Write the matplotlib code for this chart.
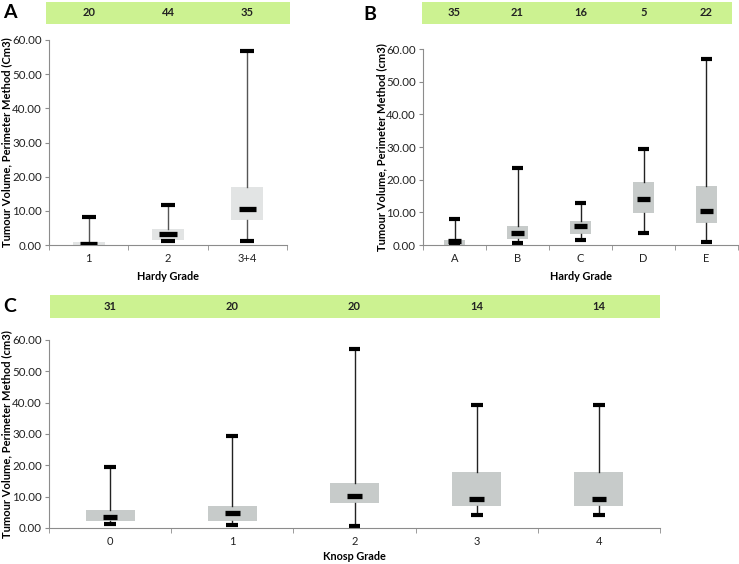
import numpy as np
import matplotlib
matplotlib.use("Agg")
import matplotlib.pyplot as plt

plt.rcParams['font.family'] = ['Lato', 'DejaVu Sans']

# panel A: Hardy grade (3 groups)
A_cats = ["1", "2", "3+4"]
A_n = [20, 44, 35]
A_min = [0.0, 1.1, 1.2]
A_q1 = [0.0, 1.5, 7.3]
A_med = [0.3, 3.1, 10.5]
A_q3 = [0.8, 4.8, 16.9]
A_max = [8.3, 11.6, 56.9]

# panel B: Hardy grade (A-E)
B_cats = ["A", "B", "C", "D", "E"]
B_n = [35, 21, 16, 5, 22]
B_min = [0.2, 0.5, 1.5, 3.6, 0.8]
B_q1 = [0.0, 1.7, 3.3, 9.9, 6.6]
B_med = [1.1, 3.6, 5.9, 14.2, 10.3]
B_q3 = [1.5, 5.9, 7.3, 19.4, 18.1]
B_max = [8.0, 23.7, 13.0, 29.3, 56.8]

# panel C: Knosp grade
C_cats = ["0", "1", "2", "3", "4"]
C_n = [31, 20, 20, 14, 14]
C_min = [1.2, 0.85, 0.75, 4.05, 4.05]
C_q1 = [2.1, 2.3, 8.0, 7.1, 7.1]
C_med = [3.5, 4.7, 10.2, 9.4, 9.4]
C_q3 = [5.9, 7.0, 14.5, 17.8, 17.8]
C_max = [19.5, 29.4, 57.1, 39.4, 39.4]

W, H = 739, 564
GREEN = '#ccf291'
SPINE = '#8c8c8c'


def fx(px):
    return px / W


def fy(py):
    return 1 - py / H


def panel(fig, rect, bar_rect, letter, letter_xy, cats, n, lo, q1, med, q3, hi,
          ylabel, xlabel, ylab_x, xlab_y, box_color, whisk_color, box_w, med_w):
    l, t, r, b = rect
    ax = fig.add_axes([fx(l), fy(b), fx(r - l), fy(t) - fy(b)])
    pos = np.arange(len(cats))
    stats = []
    for i in range(len(cats)):
        stats.append(dict(whislo=lo[i], q1=q1[i], med=med[i], q3=q3[i],
                          whishi=hi[i], fliers=[]))
    ax.bxp(stats, positions=pos, widths=box_w, patch_artist=True,
           showfliers=False,
           boxprops=dict(facecolor=box_color, edgecolor='none'),
           whiskerprops=dict(color=whisk_color, lw=1.0),
           capprops=dict(color='black', lw=3.0, solid_capstyle='butt'),
           capwidths=med_w * 0.8,
           medianprops=dict(visible=False), zorder=2)
    ax.hlines(med, pos - med_w / 2, pos + med_w / 2, colors='black', lw=3.8,
              zorder=4)
    ax.set_xlim(-0.5, len(cats) - 0.5)
    ax.set_ylim(0, 60)
    ax.set_yticks(np.arange(0, 61, 10))
    ax.set_yticklabels(["%.2f" % v for v in np.arange(0, 61, 10)])
    ax.set_xticks(pos)
    ax.set_xticklabels(cats)
    ax.set_xticks(np.arange(-0.5, len(cats), 1.0), minor=True)
    ax.tick_params(axis='x', which='major', length=0, pad=6, labelsize=8,
                   colors='#222222')
    ax.tick_params(axis='x', which='minor', length=3.5, color=SPINE,
                   direction='out')
    ax.tick_params(axis='y', length=3, color=SPINE, labelsize=8.3,
                   colors='#222222', pad=2)
    for s in ['top', 'right']:
        ax.spines[s].set_visible(False)
    for s in ['left', 'bottom']:
        ax.spines[s].set_color(SPINE)
    ax.set_ylabel(ylabel, fontsize=8, fontweight='bold', va='center')
    ax.set_xlabel(xlabel, fontsize=7.8, fontweight='bold', va='center')
    ax.yaxis.set_label_coords((ylab_x - l) / (r - l), 0.5)
    ax.xaxis.set_label_coords(0.5, (b - xlab_y) / (b - t))

    bl, bt, br, bb = bar_rect
    bax = fig.add_axes([fx(bl), fy(bb), fx(br - bl), fy(bt) - fy(bb)])
    bax.set_facecolor(GREEN)
    for s in bax.spines.values():
        s.set_visible(False)
    bax.set_xticks([])
    bax.set_yticks([])
    # keep bar text aligned with the categories of the main axes
    x0 = -0.5 + (bl - l) / (r - l) * len(cats)
    x1 = -0.5 + (br - l) / (r - l) * len(cats)
    bax.set_xlim(x0, x1)
    bax.set_ylim(0, 1)
    for p, v in zip(pos, n):
        bax.text(p, 0.5, str(v), ha='center', va='center', fontsize=8,
                 fontweight='bold', color='#222222')

    fig.text(fx(letter_xy[0]), fy(letter_xy[1]), letter, fontsize=14,
             fontweight='bold', ha='left', va='center')
    return ax


fig = plt.figure(figsize=(W / 100, H / 100), dpi=100)

panel(fig, (49, 40, 287, 245), (46, 2, 290, 24), 'A', (3, 13),
      A_cats, A_n, A_min, A_q1, A_med, A_q3, A_max,
      'Tumour Volume, Perimeter Method (Cm3)', 'Hardy Grade', 7, 276,
      '#e2e4e4', '#555555', 0.4, 0.22)

panel(fig, (423, 49, 738, 245), (422, 2, 732, 24), 'B', (363, 14),
      B_cats, B_n, B_min, B_q1, B_med, B_q3, B_max,
      'Tumour Volume, Perimeter Method (cm3)', 'Hardy Grade', 382, 276,
      '#c7cbca', '#222222', 0.34, 0.22)

panel(fig, (49, 340, 660, 528), (50, 295, 660, 318), 'C', (3, 307),
      C_cats, C_n, C_min, C_q1, C_med, C_q3, C_max,
      'Tumour Volume, Perimeter Method (cm3)', 'Knosp Grade', 7, 557,
      '#c7cbca', '#222222', 0.4, 0.12)

fig.savefig('out.png', dpi=100)
